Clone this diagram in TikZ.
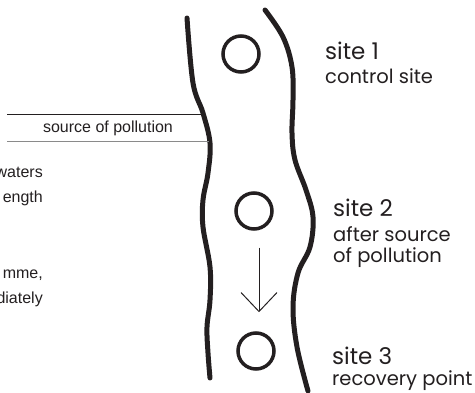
\documentclass[tikz,border=0pt]{standalone}
\usepackage{fontspec}
\setmainfont{Liberation Sans}
\newfontfamily\hand{Poppins}
\usepackage{tikz}
\usetikzlibrary{arrows.meta,positioning,calc}
\definecolor{ink}{HTML}{231F20}
\definecolor{rule}{HTML}{8A8A8A}

\begin{document}
\begin{tikzpicture}[x=1pt,y=-1pt,>={Straight Barb[length=19pt,width=36pt]},
        bank/.style={ink,line width=5pt,line cap=round},
        site/.style={circle,draw=ink,line width=3.5pt,minimum size=36pt,inner sep=0pt},
        sitelbl/.style={font=\hand\fontsize{23}{26}\selectfont,ink,inner sep=0pt,anchor=base west},
        sub/.style={font=\hand\fontsize{19.5}{21}\selectfont,ink,inner sep=0pt,align=left},
        note/.style={font=\fontsize{16}{25}\selectfont,ink,inner sep=0pt,align=right,anchor=north east}]
      \useasboundingbox (0,0) rectangle (475,393);
      \clip (0,0) rectangle (475,393);
      % river banks
      \draw[bank] plot[smooth,tension=0.6] coordinates {(187,18) (193,83) (203,113) (210,143)
          (208,173) (203,200) (203,227) (210,267) (210,300) (207,327) (208,353) (210,378)};
      \draw[bank] plot[smooth,tension=0.6] coordinates {(265,10) (283,37) (292,67) (293,100)
          (292,133) (295,160) (306,190) (313,217) (310,247) (298,273) (293,307) (297,347) (308,391)};
      % sampling sites
      \node[site] (c1) at (241,54) {};
      \node[site] (c2) at (254,211) {};
      \node[site] (c3) at (256,351) {};
      \draw[->,ink,line width=1pt] ([xshift=5pt,yshift=-17pt]c2.south) -- ([xshift=3pt,yshift=19pt]c3.north);
      % labels
      \node[sitelbl] (l1) at (325,60) {site 1};
      \node[sub,below=8pt of l1.south west,anchor=north west] (d1) {control site};
      \node[sitelbl] (l2) at (333,217) {site 2};
      \node[sub,below=9pt of l2.south west,anchor=north west] (d2) {after source\\of pollution};
      \node[sitelbl] (l3) at (332,365) {site 3};
      \node[sub,below=5pt of l3.south west,anchor=north west] (d3) {recovery point};
      % source of pollution
      \coordinate (t0) at (7,114);
      \coordinate (t1) at (203,114);
      \coordinate (b0) at (7,142);
      \coordinate (b1) at (209,142);
      \draw[ink,line width=0.8pt] (t0) -- (t1);
      \draw[rule,line width=1pt] (b0) -- (b1);
      \node[font=\fontsize{16}{18}\selectfont,ink] (src) at ($(t0)!0.5!(b1)$) {source of pollution};
      \node[note] (n1) at (43,167) {waters\\ength};
      \node[note] (n2) at (43,270) {mme,\\diately};
    \end{tikzpicture}
\end{document}
